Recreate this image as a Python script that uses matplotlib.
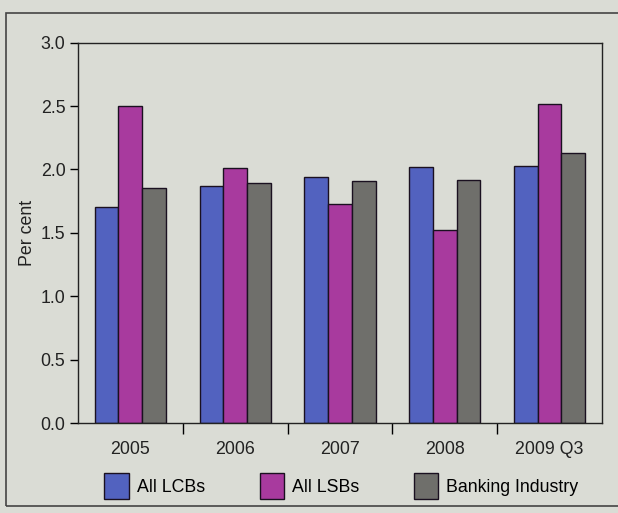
import matplotlib
matplotlib.use("Agg")
import matplotlib.pyplot as plt
import numpy as np
from matplotlib.patches import Rectangle, Patch

plt.rcParams['font.family'] = ['Liberation Sans', 'DejaVu Sans']

categories = ["2005", "2006", "2007", "2008", "2009 Q3"]
all_lcbs = [1.70, 1.87, 1.94, 2.02, 2.03]
all_lsbs = [2.50, 2.01, 1.73, 1.52, 2.52]
banking_industry = [1.85, 1.89, 1.91, 1.92, 2.13]

series_names = ["All LCBs", "All LSBs", "Banking Industry"]
series_colors = ["#5262bf", "#a83a9e", "#6f6f6b"]
bg = "#dadcd5"
ink = "#222222"
fs = 12.8

fig = plt.figure(figsize=(6.18, 5.13), dpi=100, facecolor=bg)
ax = fig.add_axes([0.1262, 0.1754, 0.8479, 0.7414], facecolor=bg)

# outer panel frame
fig.patches.append(Rectangle((6 / 618, 7 / 513), 1.2, 1 - 20 / 513,
                             transform=fig.transFigure, fill=False,
                             edgecolor="#444444", lw=1.2, zorder=0))

x = np.arange(len(categories))
w = 0.227
for i, (vals, col) in enumerate(zip([all_lcbs, all_lsbs, banking_industry], series_colors)):
    ax.bar(x + (i - 1) * w, vals, width=w, color=col, edgecolor="#1a1020",
           linewidth=1.0, zorder=2)

ax.set_xlim(-0.5, len(categories) - 0.5)
ax.set_ylim(0, 3.0)
yt = np.arange(0, 3.01, 0.5)
ax.set_yticks(yt)
ax.set_yticklabels([f"{v:.1f}" for v in yt], fontsize=fs, color=ink)
ax.tick_params(axis="y", direction="out", length=6, width=1, pad=3)

# category boundaries as major ticks, labels centred on groups
ax.set_xticks(np.arange(0.5, len(categories) - 0.5, 1.0))
ax.set_xticklabels([])
ax.set_xticks(x, minor=True)
ax.set_xticklabels(categories, minor=True, fontsize=fs, color=ink)
ax.tick_params(axis="x", which="major", direction="out", length=8, width=1)
ax.tick_params(axis="x", which="minor", length=0, pad=13)

for s in ax.spines.values():
    s.set_color(ink)
    s.set_linewidth(1.0)

ax.set_ylabel("Per cent", fontsize=fs, color=ink, labelpad=3)

handles = [Patch(facecolor=c, edgecolor="#1a1020", linewidth=1.0) for c in series_colors]
fig.legend(handles, series_names, loc="center", bbox_to_anchor=(0.5526, 0.0526),
           ncol=3, frameon=False, fontsize=fs, handlelength=1.38, handleheight=1.9,
           columnspacing=3.05, handletextpad=0.46)

fig.savefig("out.png", dpi=100, facecolor=bg)
